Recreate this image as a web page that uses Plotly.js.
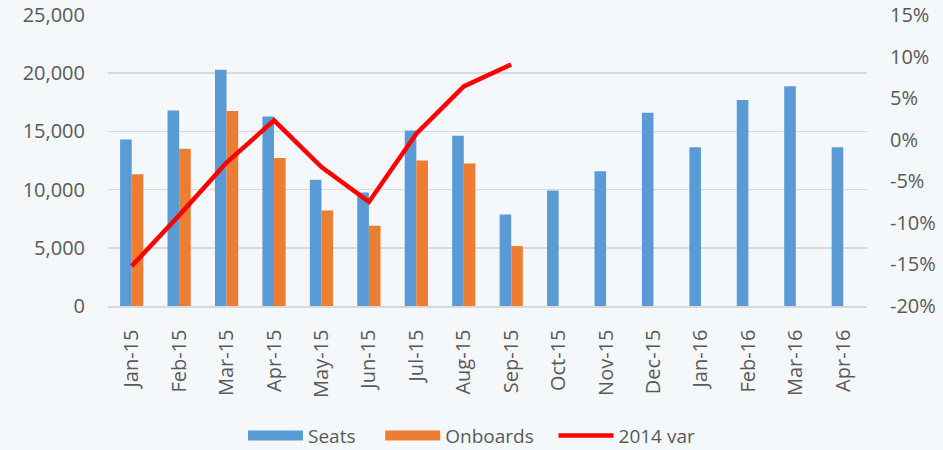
<!DOCTYPE html>
<html><head><meta charset="utf-8">
<script src="https://cdn.plot.ly/plotly-3.0.1.min.js"></script>
<style>html,body{margin:0;padding:0;background:#F5F8FB;}#chart{width:943px;height:450px;}</style>
</head><body><div id="chart"></div>
<script>
const months = ["Jan-15","Feb-15","Mar-15","Apr-15","May-15","Jun-15","Jul-15","Aug-15","Sep-15","Oct-15","Nov-15","Dec-15","Jan-16","Feb-16","Mar-16","Apr-16"];
const seats = [14300,16800,20300,16270,10850,9750,15070,14620,7870,9920,11580,16610,13640,17690,18870,13640];
const onboards = [11320,13520,16750,12720,8200,6890,12490,12240,5150,null,null,null,null,null,null,null];
const var2014 = [-0.152,-0.091,-0.0275,0.0233,-0.0328,-0.0748,0.0073,0.0641,0.0905,null,null,null,null,null,null,null];
const leftTicks = [0,5000,10000,15000,20000,25000];
const rightTicks = [-0.20,-0.15,-0.10,-0.05,0,0.05,0.10,0.15];

const fam = "Open Sans, sans-serif";
const grey = "#595959";
const cSeats = "#5B9BD5", cOnb = "#ED7D31", cVar = "#FF0000";
const pad = n => "\u00a0".repeat(n);
const data = [
  {type:"bar", name:"Seats", x:months, y:seats, marker:{color:cSeats}, yaxis:"y", showlegend:false},
  {type:"bar", name:"Onboards", x:months, y:onboards, marker:{color:cOnb}, yaxis:"y", showlegend:false},
  {type:"scatter", mode:"lines", name:"2014 var", x:months, y:var2014, yaxis:"y2", line:{color:cVar, width:4.5}, connectgaps:false, showlegend:false},
  // legend proxies (no drawn marks)
  {type:"scatter", mode:"lines", name:"Seats" + pad(4), x:[null], y:[null], line:{color:cSeats, width:14}, hoverinfo:"skip"},
  {type:"scatter", mode:"lines", name:"Onboards" + pad(3), x:[null], y:[null], line:{color:cOnb, width:14}, hoverinfo:"skip"},
  {type:"scatter", mode:"lines", name:"2014 var", x:[null], y:[null], yaxis:"y2", line:{color:cVar, width:4.5}, hoverinfo:"skip"}
];
const layout = {
  width:943, height:450,
  paper_bgcolor:"#F5F8FB", plot_bgcolor:"#F5F8FB",
  margin:{l:108, r:76, t:15, b:144},
  barmode:"group", bargap:0.51, bargroupgap:0,
  font:{family:fam, size:18, color:grey},
  showlegend:true,
  legend:{orientation:"h", x:0.5, xref:"container", xanchor:"center", y:0.032, yref:"container", yanchor:"middle", font:{family:fam, size:19, color:grey}, traceorder:"normal", itemwidth:55},
  xaxis:{type:"category", tickangle:-90, showgrid:false, showline:true, linecolor:"#D9D9D9", linewidth:1.5, ticks:"", automargin:false, tickfont:{family:fam, size:20, color:grey}, ticklabelstandoff:14},
  yaxis:{range:[0,25000], tickvals:leftTicks, ticktext:leftTicks.map(v=>v.toLocaleString("en-US")), showgrid:true, gridcolor:"#D9D9D9", gridwidth:1.5, zeroline:false, showline:false, ticks:"", automargin:false, tickfont:{family:fam, size:20, color:grey}, ticklabelstandoff:22},
  yaxis2:{overlaying:"y", side:"right", range:[-0.20,0.15], tickvals:rightTicks, ticktext:rightTicks.map(v=>Math.round(v*100)+"%"), showgrid:false, zeroline:false, showline:false, ticks:"", automargin:false, tickfont:{family:fam, size:20, color:grey}, ticklabelstandoff:22}
};
Plotly.newPlot("chart", data, layout, {displayModeBar:false, staticPlot:true});
</script></body></html>
